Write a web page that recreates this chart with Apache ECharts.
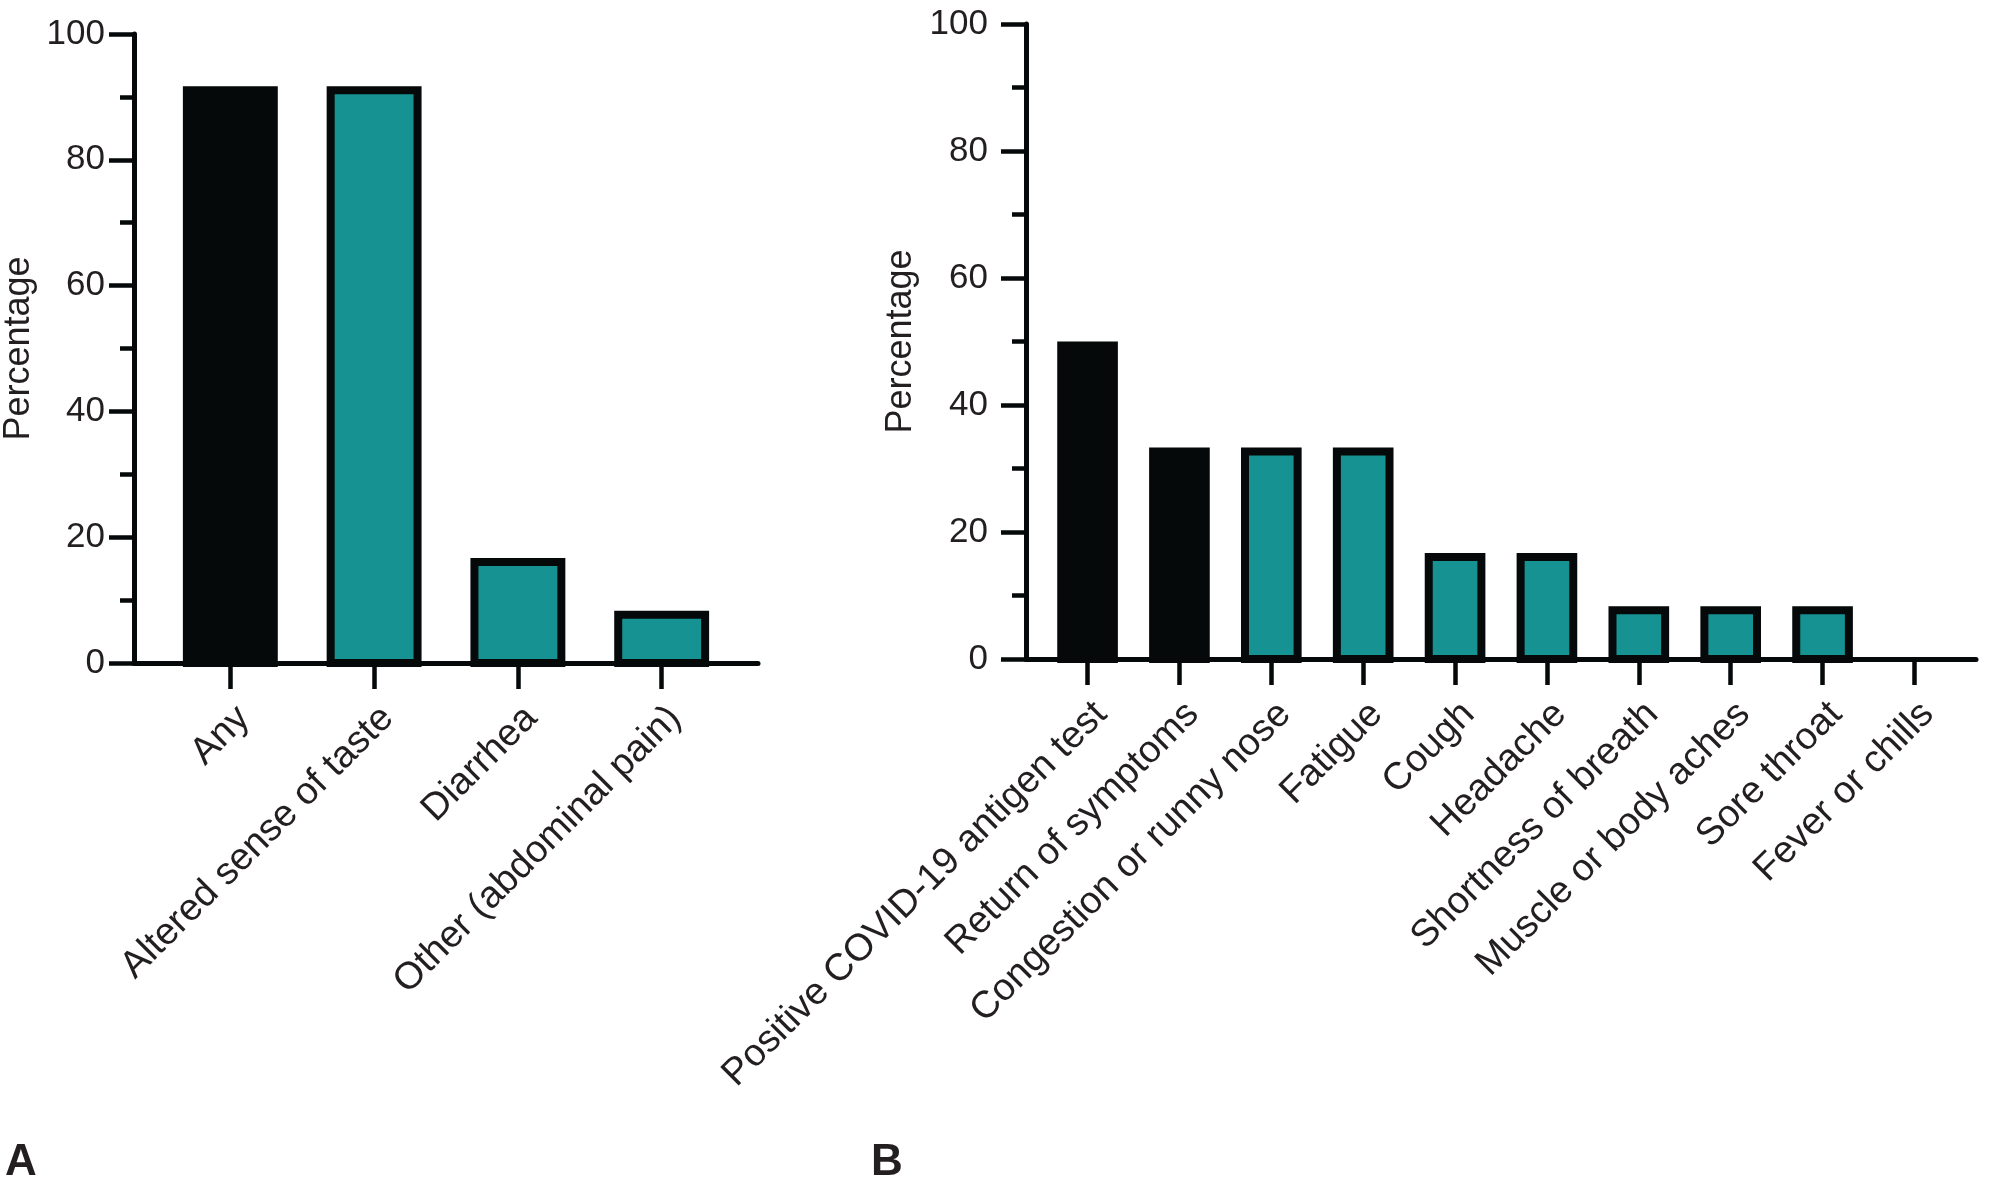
<!DOCTYPE html>
<html>
<head>
<meta charset="utf-8">
<script src="https://cdn.jsdelivr.net/npm/echarts@6/dist/echarts.min.js"></script>
<style>
  html, body { margin: 0; padding: 0; background: #ffffff; }
  #chart { width: 2009px; height: 1180px; }
</style>
</head>
<body>
<div id="chart"></div>
<script>
// ---- Data ----
const categoriesA = ['Any', 'Altered sense of taste', 'Diarrhea', 'Other (abdominal pain)'];
const valuesA = [91.7, 91.7, 16.7, 8.3];
const kindsA = ['overall', 'symptom', 'symptom', 'symptom'];

const categoriesB = ['Positive COVID-19 antigen test', 'Return of symptoms', 'Congestion or runny nose',
  'Fatigue', 'Cough', 'Headache', 'Shortness of breath', 'Muscle or body aches', 'Sore throat', 'Fever or chills'];
const valuesB = [50, 33.3, 33.3, 33.3, 16.7, 16.7, 8.3, 8.3, 8.3, 0];
const kindsB = ['overall', 'overall', 'symptom', 'symptom', 'symptom', 'symptom', 'symptom', 'symptom', 'symptom', 'symptom'];

const yTicks = [0, 20, 40, 60, 80, 100];
const yAxisTitle = 'Percentage';
const panelLabels = ['A', 'B'];

// ---- Style ----
const FONT = '"Liberation Sans", Arial, Helvetica, sans-serif';
const INK = '#050909';
const TEXT = '#231f20';
const TEAL = '#169292';
const kindColor = { overall: INK, symptom: TEAL };
const BAR_FRAC = 0.66;
const BORDER = 8;

function barData(values, kinds) {
  return values.map((v, i) => ({ value: [i, v], kind: kinds[i] }));
}

function makeRender(kinds) {
  return function (params, api) {
    const x = api.value(0), v = api.value(1);
    if (!(v > 0)) return null;
    const top = api.coord([x, v]);
    const base = api.coord([x, 0]);
    const w = api.size([BAR_FRAC, 0])[0];
    const h = base[1] - top[1];
    return {
      type: 'rect',
      shape: { x: top[0] - w / 2 + BORDER / 2, y: top[1] + BORDER / 2, width: w - BORDER, height: h - BORDER / 2 },
      style: { fill: kindColor[kinds[params.dataIndex]], stroke: INK, lineWidth: BORDER }
    };
  };
}

function xAxisFor(gridIndex, cats, margin) {
  const idx = cats.map((c, i) => i);
  return {
    type: 'value', gridIndex,
    min: -0.67, max: cats.length - 1 + 0.67,
    axisLine: { show: true, onZero: false, lineStyle: { color: INK, width: 5 } },
    axisTick: { show: true, customValues: idx, length: 26, lineStyle: { color: INK, width: 4.5 } },
    axisLabel: {
      show: true, customValues: idx, rotate: 45, margin,
      align: 'right', verticalAlign: 'top',
      formatter: v => cats[Math.round(v)],
      fontFamily: FONT, fontSize: 38, color: TEXT
    },
    splitLine: { show: false }
  };
}

function yAxisFor(gridIndex, labelMargin, nameGap) {
  return {
    type: 'value', gridIndex,
    min: yTicks[0], max: yTicks[yTicks.length - 1], interval: yTicks[1] - yTicks[0],
    axisLine: { show: true, onZero: false, lineStyle: { color: INK, width: 5 } },
    axisTick: { show: true, length: 25, lineStyle: { color: INK, width: 4.5 } },
    minorTick: { show: true, splitNumber: 2, length: 14, lineStyle: { color: INK, width: 4.5 } },
    splitLine: { show: false },
    minorSplitLine: { show: false },
    axisLabel: { margin: labelMargin, fontFamily: FONT, fontSize: 35, color: TEXT },
    name: yAxisTitle, nameLocation: 'middle', nameGap,
    nameTextStyle: { fontFamily: FONT, fontSize: 36, color: TEXT }
  };
}

const chart = echarts.init(document.getElementById('chart'), null, { renderer: 'canvas' });
chart.setOption({
  backgroundColor: '#ffffff',
  animation: false,
  title: [
    { text: panelLabels[0], left: 0, top: 1136, padding: 5,
      textStyle: { fontFamily: FONT, fontSize: 44, fontWeight: 'bold', color: TEXT } },
    { text: panelLabels[1], left: 866, top: 1136, padding: 5,
      textStyle: { fontFamily: FONT, fontSize: 44, fontWeight: 'bold', color: TEXT } }
  ],
  grid: [
    { left: 132, top: 34, width: 626, height: 629 },
    { left: 1026, top: 24, width: 950, height: 635 }
  ],
  xAxis: [xAxisFor(0, categoriesA, 36), xAxisFor(1, categoriesB, 36)],
  yAxis: [yAxisFor(0, 29, 97), yAxisFor(1, 38, 107)],
  series: [
    { type: 'custom', xAxisIndex: 0, yAxisIndex: 0, renderItem: makeRender(kindsA),
      encode: { x: 0, y: 1 }, data: barData(valuesA, kindsA) },
    { type: 'custom', xAxisIndex: 1, yAxisIndex: 1, renderItem: makeRender(kindsB),
      encode: { x: 0, y: 1 }, data: barData(valuesB, kindsB) }
  ]
});
</script>
</body>
</html>
